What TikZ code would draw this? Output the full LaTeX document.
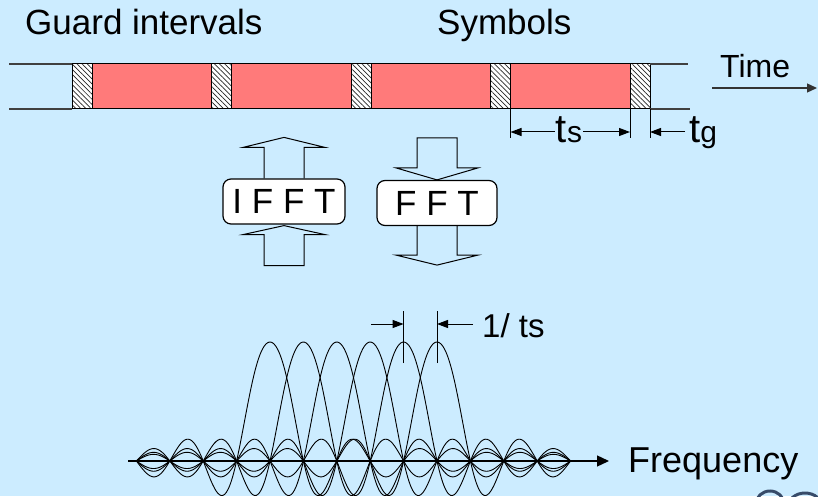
\documentclass[tikz,border=0pt]{standalone}
\usepackage{fontspec}
\setmainfont{Liberation Sans}
\usetikzlibrary{positioning}
\usetikzlibrary{arrows.meta}
\usetikzlibrary{patterns.meta}
\definecolor{slideblue}{RGB}{204,236,255}
\definecolor{symred}{RGB}{255,122,122}
\definecolor{logoblue}{RGB}{55,75,105}
\tikzstyle{guardbox} = [rectangle, minimum width=20pt, minimum height=45pt, inner sep=0pt, outer sep=0pt, draw=black, line width=1pt, preaction={fill=white}, pattern={Lines[angle=-45,distance=3.6pt,line width=0.7pt]}, pattern color=black!85]
\tikzstyle{symbolbox} = [rectangle, minimum width=119.5pt, minimum height=45pt, inner sep=0pt, outer sep=0pt, draw=black, line width=1pt, fill=symred]
\tikzstyle{fftbox} = [rectangle, rounded corners=8pt, minimum height=45pt, inner sep=0pt, draw=black, fill=white, line width=1.2pt, font=\fontsize{35}{40}\selectfont]
\tikzstyle{hollow} = [draw=black, line width=1pt, line join=miter]
\tikzstyle{bigtext} = [font=\fontsize{35}{40}\selectfont, inner sep=0pt]
\tikzstyle{dimarrow} = [line width=1pt, -{Triangle[length=11pt,width=8pt]}]
\tikzstyle{carrier} = [line width=0.9pt, line join=round]

\begin{document}
\begin{tikzpicture}[x=1pt, y=1pt,
  declare function={subc(\u)=sin(180*\u)/(pi*\u)*(1+0.5*\u*\u/(1+\u*\u));}]
  \fill[slideblue] (0,0) rectangle (818,496);
  \useasboundingbox (0,0) rectangle (818,496);

  % time axis: guard intervals and symbols
  \node[guardbox, anchor=south west] (g1) at (72,387) {};
  \node[symbolbox, right=0pt of g1] (s1) {};
  \node[guardbox, right=0pt of s1] (g2) {};
  \node[symbolbox, right=0pt of g2] (s2) {};
  \node[guardbox, right=0pt of s2] (g3) {};
  \node[symbolbox, right=0pt of g3] (s3) {};
  \node[guardbox, right=0pt of s3] (g4) {};
  \node[symbolbox, right=0pt of g4] (s4) {};
  \node[guardbox, right=0pt of s4] (g5) {};
  \coordinate (topl) at (9,432);
  \coordinate (botl) at (9,387);
  \coordinate (topr) at (688,432);
  \coordinate (botr) at (690,387);
  \draw[black!75, line width=1.6pt] (topl) -- (g1.north west);
  \draw[black!75, line width=1.6pt] (botl) -- (g1.south west);
  \draw[black!75, line width=1.6pt] (g5.north east) -- (topr);
  \draw[black!75, line width=1.6pt] (g5.south east) -- (botr);

  \node[bigtext, anchor=base west] (guards) at (25,461) {Guard intervals};
  \node[bigtext, anchor=base west] (symbols) at (437,461) {Symbols};
  \node[font=\fontsize{32}{36}\selectfont, inner sep=0pt, anchor=base west] (time) at (720,418) {Time};
  \coordinate (timestart) at (712,408);
  \coordinate (timeend) at (817,408);
  \draw[line width=1.3pt, black!80, -{Triangle[length=10pt,width=9pt]}] (timestart) -- (timeend);

  % symbol and guard lengths
  \coordinate (ts1) at ([yshift=-29pt]s4.south west);
  \coordinate (ts2) at ([yshift=-29pt]s4.south east);
  \coordinate (tg2) at ([yshift=-29pt]g5.south east);
  \draw[line width=0.8pt] (s4.south west) -- (ts1);
  \draw[line width=0.8pt] (s4.south east) -- (ts2);
  \draw[line width=0.8pt] (g5.south east) -- (tg2);
  \node[inner sep=1pt, anchor=base] (tslabel) at (569,353) {\fontsize{40}{40}\selectfont t\fontsize{30}{30}\selectfont s};
  \draw[dimarrow] (tslabel.west |- 0,364) -- (ts1 |- 0,364);
  \draw[dimarrow] (tslabel.east |- 0,364) -- (ts2 |- 0,364);
  \node[inner sep=0pt, anchor=base west] (tglabel) at (689,353) {\fontsize{40}{40}\selectfont t\fontsize{30}{30}\selectfont g};
  \draw[dimarrow] ([xshift=-4pt]tglabel.west |- 0,364) -- (tg2 |- 0,364);

  % transform blocks
  \node[fftbox, minimum width=122pt] (ifft) at (284,294.5) {I F F T};
  \node[fftbox, minimum width=120pt] (fft) at (437,293) {F F T};
  \draw[hollow, shift={(ifft.north)}] (-20,0) -- (-20,31) -- (-41,31) -- (0,41) -- (41,31) -- (20,31) -- (20,0);
  \draw[hollow, shift={(ifft.south)}] (0,-1) -- (41,-10) -- (20,-10) -- (20,-41) -- (-20,-41) -- (-20,-10) -- (-41,-10) -- cycle;
  \draw[hollow, shift={(fft.north)}] (0,0) -- (41,12) -- (20,12) -- (20,42) -- (-20,42) -- (-20,12) -- (-41,12) -- cycle;
  \draw[hollow, shift={(fft.south)}] (-20,0) -- (-20,-29) -- (-41,-29) -- (0,-39) -- (41,-29) -- (20,-29) -- (20,0);

  % subcarrier spectra
  \coordinate (fstart) at (128,35);
  \coordinate (fend) at (609,35);
  \foreach \k [evaluate=\k as \lo using -4-\k, evaluate=\k as \hi using 9-\k] in {0,...,5}
    \draw[carrier, shift={(270+33.4*\k,35)}] plot[domain=\lo:\hi, samples=262, smooth] ({33.4*\x}, {119*subc(\x)});
  \draw[line width=1.3pt, -{Triangle[length=12pt,width=11pt]}] (fstart) -- (fend);
  \node[font=\fontsize{36}{40}\selectfont, inner sep=0pt, anchor=base west] (freq) at (628,24) {Frequency};

  % carrier spacing
  \coordinate (pk5) at (403.6,133);
  \coordinate (pk6) at (437,133);
  \draw[line width=0.8pt] (pk5) -- ++(0,52);
  \draw[line width=0.8pt] (pk6) -- ++(0,52);
  \coordinate (spstart) at (371,172);
  \node[font=\fontsize{33}{36}\selectfont, inner sep=0pt, anchor=base west] (spacing) at (482,159) {1/ ts};
  \draw[dimarrow] (spstart) -- (pk5 |- spstart);
  \draw[dimarrow] ([xshift=-9pt]spacing.west |- spstart) -- (pk6 |- spstart);

  % corner logo
  \draw[logoblue, line width=3pt] (770,-8) ellipse [x radius=14, y radius=13];
  \draw[logoblue, line width=3pt] (805,-11) ellipse [x radius=17, y radius=14];
\end{tikzpicture}
\end{document}
